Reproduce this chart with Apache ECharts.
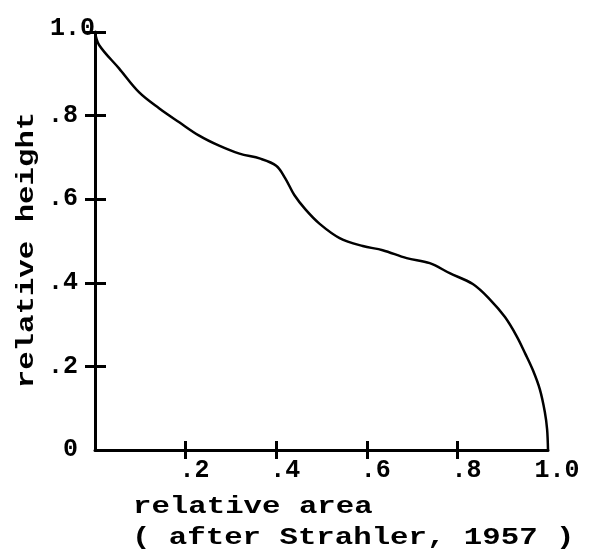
<!DOCTYPE html>
<html>
<head>
<meta charset="utf-8">
<script src="https://cdn.jsdelivr.net/npm/echarts@6/dist/echarts.min.js"></script>
<style>html,body{margin:0;padding:0;background:#fff}#c{width:591px;height:555px}</style>
</head>
<body>
<div id="c"></div>
<script>
// relative area (x) and relative height (y) along the hypsometric curve
var relArea = [0, 0.009, 0.053, 0.097, 0.142, 0.186, 0.230, 0.274, 0.319, 0.365, 0.400, 0.420, 0.440, 0.465, 0.496, 0.540, 0.591, 0.635, 0.688, 0.739, 0.783, 0.834, 0.872, 0.905, 0.931, 0.950, 0.967, 0.982, 0.993, 0.998, 1.0];
var relHeight = [1.0, 0.969, 0.913, 0.856, 0.817, 0.784, 0.752, 0.728, 0.709, 0.697, 0.680, 0.650, 0.610, 0.575, 0.541, 0.507, 0.488, 0.478, 0.459, 0.447, 0.423, 0.397, 0.360, 0.318, 0.272, 0.230, 0.190, 0.145, 0.091, 0.05, 0.0];
var xTicks = [0.2, 0.4, 0.6, 0.8];
var xLabels = ['.2', '.4', '.6', '.8', '1.0'];
var yTicks = [0.2, 0.4, 0.6, 0.8, 1.0];
var yLabels = ['0', '.2', '.4', '.6', '.8', '1.0'];
var xName = 'relative area';
var xSource = '( after Strahler, 1957 )';
var yName = 'relative height';

var FONT = '"Liberation Mono", "DejaVu Sans Mono", monospace';
var pts = relArea.map(function (x, i) { return [x, relHeight[i]]; });

function xFmt(v) {
  var i = Math.round(v * 5) - 1;
  if (i < 0) return '';
  var s = xLabels[i];
  return v >= 0.999 ? '{e|' + s + '}' : '{n|' + s + '}';
}
function yFmt(v) {
  var i = Math.round(v * 5);
  var s = yLabels[i];
  return v >= 0.999 ? '{e|' + s + '}' : '{n|' + s + '}';
}
var lblStyle = { fontFamily: FONT, fontWeight: 'bold', fontSize: 25, color: '#000' };
var nameFont = 'bold 24px ' + FONT;
var NAME_SX = 1.28;

var chart = echarts.init(document.getElementById('c'), null, { renderer: 'canvas' });
chart.setOption({
  animation: false,
  backgroundColor: '#fff',
  grid: { left: 95, right: 43, top: 32, bottom: 105, containLabel: false },
  xAxis: [{
    type: 'value', min: 0, max: 1, interval: 0.2, position: 'bottom',
    axisLine: { show: true, onZero: false, lineStyle: { color: '#000', width: 3 } },
    axisTick: { show: true, inside: false, length: 9, customValues: xTicks, lineStyle: { color: '#000', width: 3 } },
    splitLine: { show: false },
    axisLabel: {
      margin: 8, formatter: xFmt, showMinLabel: false,
      rich: {
        n: Object.assign({ padding: [0, 0, 0, 18] }, lblStyle),
        e: Object.assign({ padding: [0, 0, 0, 18] }, lblStyle)
      }
    }
  }, {
    type: 'value', min: 0, max: 1, interval: 0.2, position: 'bottom',
    axisLine: { show: false, onZero: false },
    axisTick: { show: true, inside: true, length: 9, customValues: xTicks, lineStyle: { color: '#000', width: 3 } },
    axisLabel: { show: false }, splitLine: { show: false }
  }],
  yAxis: [{
    type: 'value', min: 0, max: 1, interval: 0.2, position: 'left',
    axisLine: { show: true, onZero: false, lineStyle: { color: '#000', width: 3 } },
    axisTick: { show: true, inside: false, length: 10, customValues: yTicks, lineStyle: { color: '#000', width: 3 } },
    splitLine: { show: false },
    axisLabel: {
      margin: 0, formatter: yFmt,
      rich: {
        n: Object.assign({ padding: [0, 17, 0, 0] }, lblStyle),
        e: Object.assign({ padding: [0, 0, 6, 0] }, lblStyle)
      }
    }
  }, {
    type: 'value', min: 0, max: 1, interval: 0.2, position: 'left',
    axisLine: { show: false, onZero: false },
    axisTick: { show: true, inside: true, length: 11, customValues: yTicks, lineStyle: { color: '#000', width: 3 } },
    axisLabel: { show: false }, splitLine: { show: false }
  }],
  graphic: [
    { type: 'text', x: 133, y: 507, scaleX: NAME_SX,
      style: { text: xName, font: nameFont, fill: '#000', align: 'left', verticalAlign: 'middle' } },
    { type: 'text', x: 132, y: 538, scaleX: NAME_SX,
      style: { text: xSource, font: nameFont, fill: '#000', align: 'left', verticalAlign: 'middle' } },
    { type: 'text', x: 27, y: 250, rotation: Math.PI / 2, scaleX: NAME_SX,
      style: { text: yName, font: nameFont, fill: '#000', align: 'center', verticalAlign: 'middle' } }
  ],
  series: [{
    type: 'line', data: pts, xAxisIndex: 0, yAxisIndex: 0,
    smooth: 0.35, showSymbol: false, symbol: 'none',
    lineStyle: { color: '#000', width: 2.5 }
  }]
});
</script>
</body>
</html>
